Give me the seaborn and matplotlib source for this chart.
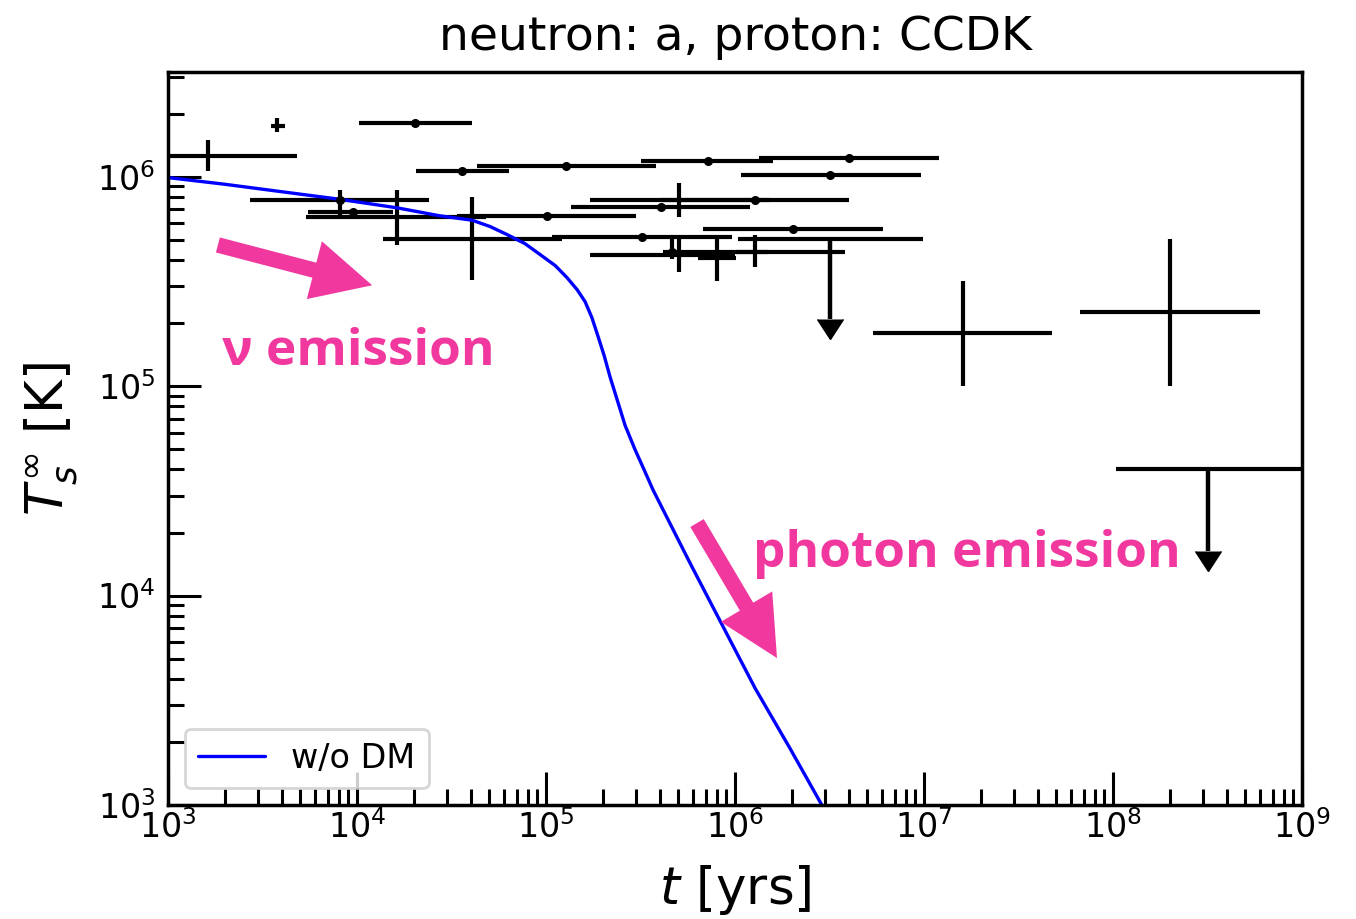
import numpy as np
import matplotlib
matplotlib.use("Agg")
import matplotlib.pyplot as plt
import seaborn as sns
from matplotlib.ticker import LogLocator, NullFormatter

# ---------------- data ----------------
# cooling curve without dark matter
curve_t = [1.0e3, 2.0e3, 3.9e3, 8.1e3, 1.63e4, 2.75e4, 4.06e4, 5.06e4, 6.2e4, 7.74e4,
           9.3e4, 1.12e5, 1.29e5, 1.46e5, 1.61e5, 1.75e5, 1.88e5, 2.03e5, 2.18e5,
           2.38e5, 2.62e5, 2.96e5, 3.34e5, 3.68e5, 5.78e5, 8.65e5, 1.28e6, 1.95e6, 2.88e6]
curve_T = [9.9e5, 9.2e5, 8.5e5, 7.8e5, 7.1e5, 6.5e5, 6.2e5, 5.78e5, 5.3e5, 4.79e5,
           4.25e5, 3.76e5, 3.3e5, 2.89e5, 2.53e5, 2.12e5, 1.74e5, 1.40e5, 1.11e5,
           8.6e4, 6.5e4, 4.97e4, 3.90e4, 3.2e4, 1.43e4, 7.1e3, 3.6e3, 1.87e3, 1.0e3]

# observed neutron stars drawn with a central dot
dot_t    = [2.03e4, 9.5e3, 1.01e5, 3.6e4, 1.28e5, 7.2e5, 4.0e6, 3.2e6, 1.28e6, 4.06e5,
            3.22e5, 2.03e6, 4.64e5, 8.13e3]
dot_t_lo = [1.03e4, 5.5e3, 3.4e4, 2.05e4, 4.3e4, 3.2e5, 1.34e6, 1.08e6, 4.06e5, 1.36e5,
            1.08e5, 6.8e5, 4.16e5, 2.72e3]
dot_t_hi = [4.06e4, 1.55e4, 3.0e5, 6.4e4, 3.8e5, 1.59e6, 1.2e7, 9.6e6, 4.0e6, 1.2e6,
            9.6e5, 6.1e6, 3.8e6, 2.4e4]
dot_T    = [1.81e6, 6.8e5, 6.5e5, 1.06e6, 1.12e6, 1.19e6, 1.23e6, 1.02e6, 7.7e5, 7.2e5,
            5.17e5, 5.6e5, 4.39e5, 7.7e5]
dot_T_lo = [1.81e6, 6.8e5, 6.5e5, 1.06e6, 1.12e6, 1.19e6, 1.23e6, 1.02e6, 7.7e5, 7.2e5,
            5.17e5, 5.6e5, 4.06e5, 6.35e5]
dot_T_hi = [1.81e6, 6.8e5, 6.5e5, 1.06e6, 1.12e6, 1.19e6, 1.23e6, 1.02e6, 7.7e5, 7.2e5,
            5.17e5, 5.6e5, 5.12e5, 8.6e5]

# observed neutron stars drawn as plain crosses
cross_t    = [1.63e3, 3.78e3, 1.63e4, 4.06e4, 5.06e5, 5.06e5, 8.04e5, 1.28e6, 1.61e7, 2.0e8]
cross_t_lo = [5.5e2, 3.51e3, 5.4e3, 1.37e4, 1.71e5, 1.71e5, 6.37e5, 1.01e6, 5.4e6, 6.7e7]
cross_t_hi = [4.82e3, 4.16e3, 4.8e4, 1.22e5, 1.53e6, 1.0e6, 1.01e6, 1.5e6, 4.75e7, 6.0e8]
cross_T    = [1.25e6, 1.75e6, 6.4e5, 5.06e5, 7.7e5, 4.25e5, 4.1e5, 4.39e5, 1.8e5, 2.26e5]
cross_T_lo = [1.06e6, 1.63e6, 4.7e5, 3.2e5, 6.4e5, 3.52e5, 3.19e5, 3.72e5, 1.0e5, 1.0e5]
cross_T_hi = [1.49e6, 1.91e6, 8.6e5, 8.0e5, 9.3e5, 5.12e5, 5.12e5, 5.28e5, 3.16e5, 5.06e5]

# upper limits
ul_t     = [3.2e6, 3.18e8]
ul_t_lo  = [1.04e6, 1.04e8]
ul_t_hi  = [9.9e6, 1.0e9]
ul_T     = [5.06e5, 4.0e4]
ul_T_end = [2.1e5, 1.64e4]

title = "neutron: a, proton: CCDK"
label_curve = "w/o DM"
note1 = "ν emission"
note2 = "photon emission"

# ---------------- style ----------------
sns.set_style("white")
plt.rcParams["font.family"] = ["DejaVu Sans"]
plt.rcParams["mathtext.fontset"] = "dejavusans"
for k in ("text.color", "axes.labelcolor", "xtick.color", "ytick.color"):
    plt.rcParams[k] = "black"

pink = "#F0389F"

fig, ax = plt.subplots(figsize=(13.56, 9.19), dpi=100)
fig.subplots_adjust(left=0.1239, right=0.9602, bottom=0.124, top=0.9217)
ax.set_xscale("log")
ax.set_yscale("log")

ekw = dict(ecolor="black", elinewidth=3, capsize=0, color="black")

def asym(c, lo, hi):
    c, lo, hi = map(np.asarray, (c, lo, hi))
    return [c - lo, hi - c]

ax.errorbar(cross_t, cross_T, xerr=asym(cross_t, cross_t_lo, cross_t_hi),
            yerr=asym(cross_T, cross_T_lo, cross_T_hi), fmt="none", **ekw)
ax.errorbar(dot_t, dot_T, xerr=asym(dot_t, dot_t_lo, dot_t_hi),
            yerr=asym(dot_T, dot_T_lo, dot_T_hi), fmt="o", ms=5.5,
            mfc="black", mec="black", **ekw)
ax.errorbar(ul_t, ul_T, xerr=asym(ul_t, ul_t_lo, ul_t_hi), fmt="none", **ekw)
ul_T_arr = np.asarray(ul_T)
ax.errorbar(ul_t, ul_T, yerr=[ul_T_arr - np.asarray(ul_T_end), np.zeros_like(ul_T_arr)],
            uplims=True, fmt="none", ecolor="black", color="black",
            elinewidth=3.2, capsize=9.7)

sns.lineplot(x=curve_t, y=curve_T, color="blue", lw=2.4, label=label_curve,
             ax=ax, sort=False, estimator=None)

ax.set_xlim(1e3, 1e9)
ax.set_ylim(1e3, 10 ** 6.5)

# ticks
for axis in (ax.xaxis, ax.yaxis):
    axis.set_major_locator(LogLocator(base=10, numticks=20))
    axis.set_minor_locator(LogLocator(base=10, subs=np.arange(2, 10), numticks=100))
    axis.set_minor_formatter(NullFormatter())
ax.tick_params(which="major", direction="in", length=24, width=2.2,
               labelsize=24, top=False, right=False, bottom=True, left=True,
               colors="black")
ax.tick_params(which="minor", direction="in", length=11.5, width=2.2,
               top=False, right=False, bottom=True, left=True, colors="black")
ax.tick_params(axis="x", which="major", pad=4)
ax.tick_params(axis="y", which="major", pad=9)
for s in ax.spines.values():
    s.set_linewidth(2.5)
    s.set_color("black")

ax.set_title(title, fontsize=34, pad=16, color="black")
ax.set_xlabel(r"$t$ [yrs]", fontsize=37, labelpad=13, color="black")
ax.set_ylabel(r"$T_s^{\infty}$ [K]", fontsize=37, labelpad=12, color="black")

leg = ax.legend(loc="lower left", fontsize=24, frameon=True, handlelength=2.0)
leg.get_frame().set_edgecolor("0.8")
leg.get_frame().set_linewidth(2)
for txt in leg.get_texts():
    txt.set_color("black")

# annotations
arrow_kw = dict(arrowstyle="simple,head_length=1.0,head_width=1.0,tail_width=0.26",
                color=pink, mutation_scale=43, shrinkA=0, shrinkB=0, lw=0)
ax.annotate("", xy=(0.180, 0.709), xytext=(0.044, 0.764), xycoords="axes fraction",
            textcoords="axes fraction", arrowprops=arrow_kw)
ax.annotate("", xy=(0.537, 0.2005), xytext=(0.4665, 0.3847), xycoords="axes fraction",
            textcoords="axes fraction", arrowprops=arrow_kw)
ax.text(0.0476, 0.600, note1, transform=ax.transAxes, color=pink, fontsize=37,
        fontweight="bold", family=["Open Sans", "DejaVu Sans"], va="baseline", ha="left")
ax.text(0.5159, 0.3247, note2, transform=ax.transAxes, color=pink, fontsize=37,
        fontweight="bold", family=["Open Sans", "DejaVu Sans"], va="baseline", ha="left")

fig.savefig("out.png", dpi=100)
